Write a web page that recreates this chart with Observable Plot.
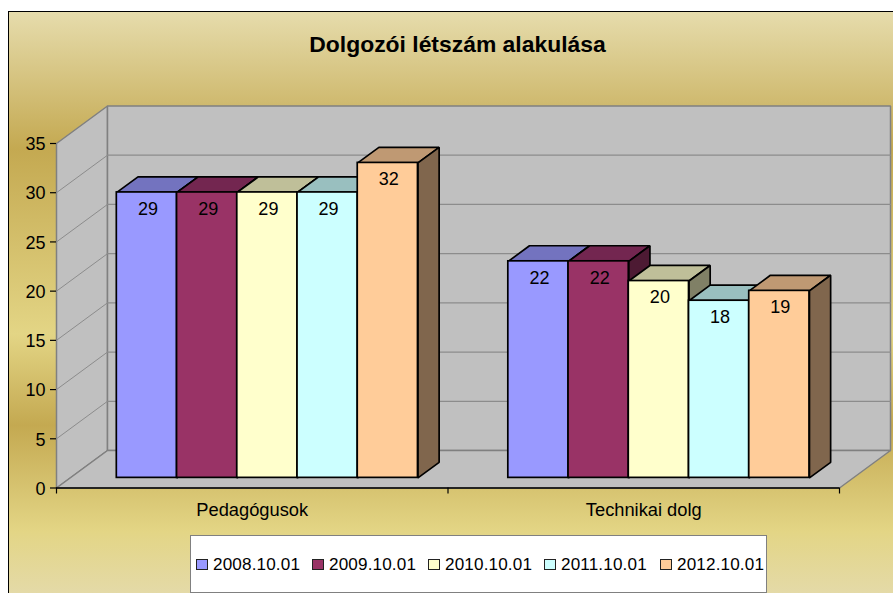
<!DOCTYPE html>
<html lang="hu">
<head>
<meta charset="utf-8">
<title>Dolgozói létszám alakulása</title>
<script src="https://cdn.jsdelivr.net/npm/d3@7"></script>
<script src="https://cdn.jsdelivr.net/npm/@observablehq/plot@0.6"></script>
<style>
  html, body { margin: 0; padding: 0; background: #fff; overflow: hidden; }
  #page { position: relative; width: 893px; height: 593px; overflow: hidden; font-family: "Liberation Sans", Arial, sans-serif; color: #000; }
  #frame { position: absolute; left: 8px; top: 11px; width: 900px; height: 600px; box-sizing: border-box; border: 1.5px solid #000;
    background: linear-gradient(to bottom, #e6dcac 0px, #c4a951 137px, #e3d585 322px, #c4a951 413px, #e3d585 519px, #e4daa8 582px); }
  #title { position: absolute; left: 0; width: 915px; top: 31px; text-align: center; font-weight: bold; font-size: 22.9px; line-height: 26px; }
  #chart { position: absolute; left: 0; top: 0; }
  #chart svg { background: transparent; overflow: visible; display: block; }
  #legend { position: absolute; left: 190px; top: 535px; width: 576.5px; height: 58px; box-sizing: border-box; background: #fff; border: 1.5px solid #808080; }
  .item { position: absolute; top: 0; height: 55px; line-height: 57px; font-size: 17.1px; white-space: nowrap; letter-spacing: 0.15px; }
  .swatch { position: absolute; left: 0; top: 22.5px; width: 11.5px; height: 11.5px; box-sizing: border-box; border: 1.5px solid #222; }
  .label { position: absolute; left: 17px; top: 0; }
</style>
</head>
<body>
<div id="page">
  <div id="frame"></div>
  <div id="chart"></div>
  <div id="title"></div>
  <div id="legend"></div>
</div>
<script>
const chartTitle = "Dolgozói létszám alakulása";
const categories = ["Pedagógusok", "Technikai dolg"];
const seriesNames = ["2008.10.01", "2009.10.01", "2010.10.01", "2011.10.01", "2012.10.01"];
const seriesColors = ["#9999ff", "#993366", "#ffffcc", "#ccffff", "#ffcc99"];
const topColors = ["#7373bf", "#732650", "#bfbf99", "#99bfbf", "#bf9973"];
const sideColors = ["#4d4d80", "#4d1a33", "#808066", "#668080", "#80664d"];
const pedagogusok = [29, 29, 29, 29, 32];
const technikai = [22, 22, 20, 18, 19];
const seriesByCategory = [pedagogusok, technikai];
const yTicks = [0, 5, 10, 15, 20, 25, 30, 35];

// Oblique projection in data units: depth 0 = front of floor, 1 = back wall
const depthX = 51 / 391.5;
const depthY = 37.5 / (344.5 / 35);
const p = (c, v, d) => ({x: c + d * depthX, y: v + d * depthY});
const yMax = 35, nCat = categories.length;
const barFront = 0.27, barBack = 0.685;
const barShift = 0.0035;
const slots = seriesNames.length + 1.5;

const poly = (pts) => pts.map(([c, v, d]) => p(c, v, d));
const face = (pts, fill, stroke, sw) =>
  Plot.line(poly(pts), {x: "x", y: "y", fill, stroke, strokeWidth: sw, curve: "linear-closed", strokeLinejoin: "miter"});
const seg = (pts, stroke, sw) =>
  Plot.line(poly(pts), {x: "x", y: "y", stroke, strokeWidth: sw, strokeLinejoin: "miter"});

const marks = [
  // walls and floor
  face([[0, 0, 0], [0, yMax, 0], [0, yMax, 1], [0, 0, 1]], "#c0c0c0", "#808080", 1.5),
  face([[0, 0, 1], [0, yMax, 1], [nCat, yMax, 1], [nCat, 0, 1]], "#c0c0c0", "#808080", 1.5),
  face([[0, 0, 0], [0, 0, 1], [nCat, 0, 1], [nCat, 0, 0]], "#c0c0c0", "#808080", 1.5)
];
// gridlines
for (const t of yTicks.slice(1, -1)) {
  marks.push(seg([[0, t, 0], [0, t, 1]], "#8c8c8c", 1));
  marks.push(seg([[0, t, 1], [nCat, t, 1]], "#8c8c8c", 1.3));
}
// bars, painted left to right
const labels = [];
const barStroke = 1.7;
categories.forEach((cat, c) => {
  seriesByCategory[c].forEach((v, i) => {
    const x1 = c + barShift + (0.75 + i) / slots, x2 = c + barShift + (1.75 + i) / slots;
    marks.push(face([[x1, v, barFront], [x1, v, barBack], [x2, v, barBack], [x2, v, barFront]], topColors[i], "#000", barStroke));
    marks.push(face([[x2, 0, barFront], [x2, v, barFront], [x2, v, barBack], [x2, 0, barBack]], sideColors[i], "#000", barStroke));
    const a = p(x1, 0, barFront), b = p(x2, v, barFront);
    marks.push(Plot.rect([{x1: a.x, x2: b.x, y1: a.y, y2: b.y}], {x1: "x1", x2: "x2", y1: "y1", y2: "y2", fill: seriesColors[i], stroke: "#000", strokeWidth: barStroke}));
    const m = p((x1 + x2) / 2, v, barFront);
    labels.push({x: m.x, y: m.y, text: String(v)});
  });
});
marks.push(Plot.text(labels, {x: "x", y: "y", text: "text", dx: 1, dy: 16.5, fontSize: 18, fill: "#000"}));
// axes
marks.push(Plot.ruleY([0], {stroke: "#000", strokeWidth: 1.5}));
marks.push(Plot.axisY({ticks: yTicks, tickSize: 6, tickPadding: 5, fontSize: 18, label: null, stroke: "#000", strokeWidth: 1.2, fill: "#000", textStroke: "none", tickFormat: d => String(d)}));
marks.push(Plot.axisX({ticks: d3.range(nCat + 1), tickSize: 6, tickFormat: () => "", label: null, stroke: "#000", strokeWidth: 1.2}));
marks.push(Plot.text(categories.map((name, c) => ({name, x: c + 0.5, y: 0})), {x: "x", y: "y", text: "name", dy: 22.5, fontSize: 18.3, fill: "#000"}));

const plot = Plot.plot({
  width: 893, height: 593,
  marginLeft: 56, marginRight: 54, marginTop: 143, marginBottom: 105.5,
  x: {type: "linear", domain: [0, nCat]},
  y: {type: "linear", domain: [0, yMax]},
  style: {background: "transparent", fontFamily: "'Liberation Sans', Arial, sans-serif", overflow: "visible"},
  marks
});
// nudge the y tick labels down to sit level with their ticks
plot.querySelectorAll('[aria-label="y-axis tick label"] text').forEach(t => {
  t.setAttribute("dy", "1");
});
document.getElementById("chart").appendChild(plot);
document.getElementById("title").textContent = chartTitle;

const legend = document.getElementById("legend");
seriesNames.forEach((name, i) => {
  const item = document.createElement("div");
  item.className = "item";
  item.style.left = (5 + i * 116) + "px";
  const sw = document.createElement("span");
  sw.className = "swatch";
  sw.style.background = seriesColors[i];
  const lb = document.createElement("span");
  lb.className = "label";
  lb.textContent = name;
  item.append(sw, lb);
  legend.appendChild(item);
});
</script>
</body>
</html>
